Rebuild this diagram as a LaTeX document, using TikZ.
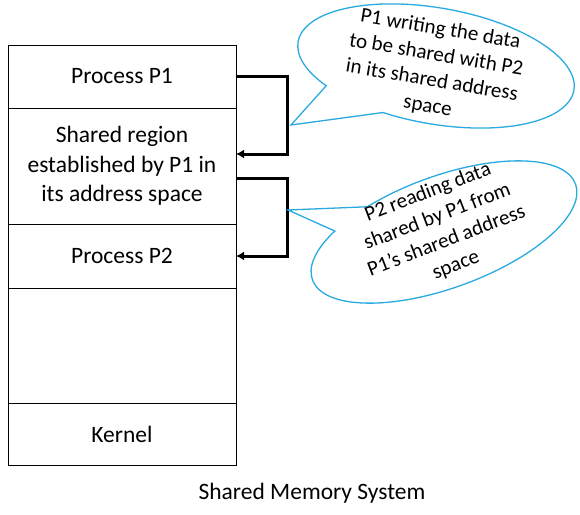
\documentclass[tikz,border=0pt]{standalone}
\usepackage{fontspec}
\setmainfont{Carlito}
\usetikzlibrary{positioning,shapes.callouts,arrows.meta}
\definecolor{calloutblue}{RGB}{41,170,225}

\begin{document}
\begin{tikzpicture}[
    x=1pt,y=1pt,
    segment/.style={
        draw=black,
        line width=1pt,
        minimum width=228pt,
        inner sep=0pt,
        outer sep=0pt,
        align=center,
        font=\fontsize{23.5}{29.5}\selectfont
        },
    flow/.style={
        draw=black,
        line width=3pt,
        -{Latex[length=8pt,width=9pt]}
        },
    bubble/.style={
        ellipse callout,
        draw=calloutblue,
        line width=1.3pt,
        fill=white,
        inner sep=0pt
        },
    bubbletext/.style={
        align=center,
        inner sep=0pt,
        font=\fontsize{21}{26}\selectfont
        },
  ]
  \useasboundingbox (0,0) rectangle (580,-514);
  % Memory layout
  \node[segment,minimum height=63pt,anchor=north west] (p1) at (8,-45) {Process P1};
  \node[segment,minimum height=116pt,below=0pt of p1] (shared) {Shared region\\established by P1 in\\its address space};
  \node[segment,minimum height=64pt,below=0pt of shared] (p2) {Process P2};
  \node[segment,minimum height=115pt,below=0pt of p2] (free) {};
  \node[segment,minimum height=62pt,below=0pt of free] (kernel) {Kernel};
  \node[font=\fontsize{23.5}{29.5}\selectfont] (caption) at (312,-493) {Shared Memory System};
  % Data flow
  \draw[flow] (p1.east) -- ++(51,0) |- ([yshift=12pt]shared.east);
  \draw[flow] ([yshift=-12pt]shared.east) -- ++(51,0) |- (p2.east);
  % Callouts
  \coordinate (tip1) at (291,-125);
  \node[bubble,rotate=-10,minimum width=280pt,minimum height=116pt,
        callout absolute pointer={(tip1)},callout pointer arc=30] (write) at (436,-66) {};
  \node[bubbletext,rotate=-9.5] (writetext) at (434,-68) {P1 writing the data\\to be shared with P2\\in its shared address\\space};
  \coordinate (tip2) at (288,-210);
  \node[bubble,rotate=20,minimum width=280pt,minimum height=112pt,
        callout absolute pointer={(tip2)},callout pointer arc=20] (read) at (444,-232) {};
  \node[bubbletext,rotate=21] (readtext) at (442,-229) {P2 reading data\\shared by P1 from\\P1’s shared address\\space};
\end{tikzpicture}
\end{document}
